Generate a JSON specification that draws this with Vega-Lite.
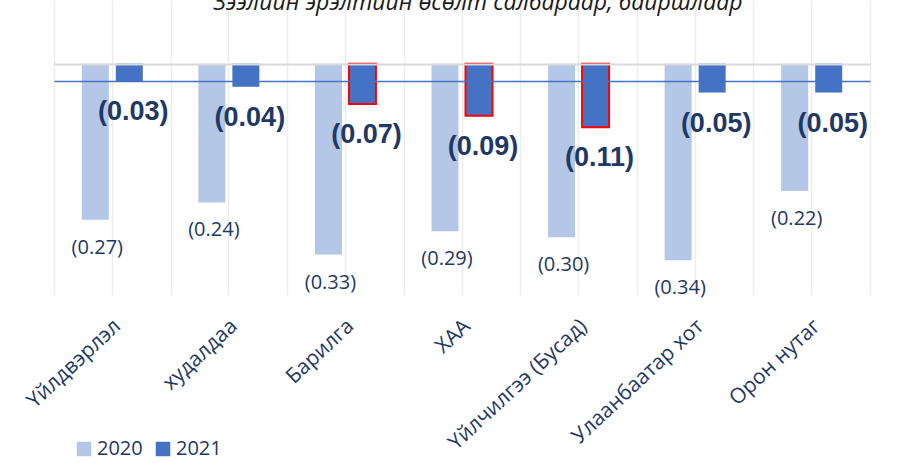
{
  "$schema": "https://vega.github.io/schema/vega-lite/v6.json",
  "autosize": {"type": "none"},
  "padding": {"left": 54, "top": 0, "right": 27, "bottom": 168},
  "width": 816,
  "height": 295,
  "background": "white",
  "title": {
    "text": "Зээлийн эрэлтийн өсөлт салбараар, байршлаар",
    "font": "Open Sans",
    "fontStyle": "italic",
    "fontWeight": "normal",
    "fontSize": 23,
    "color": "#1A1A1A",
    "anchor": "middle",
    "offset": -15,
    "dx": 16
  },
  "config": {
    "view": {"stroke": null},
    "axisX": {
      "labelAngle": -43,
      "labelAlign": "right",
      "labelBaseline": "middle",
      "labelFont": "Open Sans",
      "labelFontSize": 21,
      "labelColor": "#1F3864",
      "labelLimit": 400,
      "ticks": false,
      "domain": false,
      "grid": true,
      "gridColor": "#EDEDED",
      "gridWidth": 1.5,
      "labelPadding": 28,
      "labelOffset": 5,
      "title": null
    }
  },
  "resolve": {"axis": {"x": "independent"}},
  "data": {
    "values": [
      {"cat": "Үйлдвэрлэл", "year": "2020", "value": -0.27},
      {"cat": "худалдаа", "year": "2020", "value": -0.24},
      {"cat": "Барилга", "year": "2020", "value": -0.33},
      {"cat": "ХАА", "year": "2020", "value": -0.29},
      {"cat": "Үйлчилгээ (Бусад)", "year": "2020", "value": -0.30},
      {"cat": "Улаанбаатар хот", "year": "2020", "value": -0.34},
      {"cat": "Орон нутаг", "year": "2020", "value": -0.22},
      {"cat": "Үйлдвэрлэл", "year": "2021", "value": -0.03},
      {"cat": "худалдаа", "year": "2021", "value": -0.04},
      {"cat": "Барилга", "year": "2021", "value": -0.07},
      {"cat": "ХАА", "year": "2021", "value": -0.09},
      {"cat": "Үйлчилгээ (Бусад)", "year": "2021", "value": -0.11},
      {"cat": "Улаанбаатар хот", "year": "2021", "value": -0.05},
      {"cat": "Орон нутаг", "year": "2021", "value": -0.05}
    ]
  },
  "encoding": {
    "xOffset": {"field": "year", "type": "nominal", "scale": {"domain": ["2020", "2021"], "paddingInner": 0.206, "paddingOuter": 0.817}},
    "y": {
      "field": "value", "type": "quantitative",
      "scale": {"domain": [-0.4, 0.11], "nice": false},
      "axis": {
        "values": [0, -0.03], "labels": false, "ticks": false, "domain": false, "title": null,
        "grid": true, "zindex": 1,
        "gridColor": {"condition": {"test": "datum.value === 0", "value": "#D9D9D9"}, "value": "#4472C4"},
        "gridWidth": {"condition": {"test": "datum.value === 0", "value": 2}, "value": 1.5}
      }
    }
  },
  "layer": [
    {
      "transform": [{"filter": "datum.year === '2020'"}],
      "mark": {"type": "bar"},
      "encoding": {
        "x": {"field": "cat", "type": "nominal", "sort": null, "title": null,
              "scale": {"paddingInner": 0, "paddingOuter": 0},
              "axis": {"tickBand": "extent", "orient": "bottom"}},
        "color": {
          "field": "year", "type": "nominal",
          "scale": {"domain": ["2020", "2021"], "range": ["#B4C7E7", "#4472C4"]},
          "legend": {
            "orient": "none", "legendX": 20, "legendY": 439, "direction": "horizontal",
            "title": null, "symbolType": "square", "symbolSize": 210,
            "labelFont": "Open Sans", "labelFontSize": 20, "labelColor": "#1F3864",
            "labelOffset": 3, "columnPadding": 10, "symbolStrokeWidth": 0
          }
        }
      }
    },
    {
      "transform": [{"filter": "datum.year === '2021'"}],
      "mark": {"type": "bar", "strokeWidth": 2, "stroke": "#FF0000"},
      "encoding": {
        "x": {"field": "cat", "type": "nominal", "sort": null, "title": null,
              "axis": {"orient": "top", "labels": false, "ticks": false, "domain": false, "grid": true, "tickBand": "center"}},
        "color": {"field": "year", "type": "nominal"},
        "strokeOpacity": {
          "condition": {"test": "indexof(['Барилга', 'ХАА', 'Үйлчилгээ (Бусад)'], datum.cat) >= 0", "value": 1},
          "value": 0
        }
      }
    },
    {
      "transform": [
        {"filter": "datum.year === '2020'"},
        {"calculate": "'(' + format(abs(datum.value), '.2f') + ')'", "as": "label"}
      ],
      "mark": {"type": "text", "font": "Open Sans", "fontSize": 20, "color": "#1F3864", "baseline": "middle", "dy": 28, "dx": 2},
      "encoding": {
        "x": {"field": "cat", "type": "nominal", "sort": null, "title": null, "axis": null},
        "text": {"field": "label"}
      }
    },
    {
      "transform": [
        {"filter": "datum.year === '2021'"},
        {"calculate": "'(' + format(abs(datum.value), '.2f') + ')'", "as": "label"}
      ],
      "mark": {"type": "text", "font": "Liberation Sans", "fontWeight": "bold", "fontSize": 27, "color": "#1F3864", "baseline": "middle", "dy": 31, "dx": 4},
      "encoding": {
        "x": {"field": "cat", "type": "nominal", "sort": null, "title": null, "axis": null},
        "text": {"field": "label"}
      }
    }
  ]
}
